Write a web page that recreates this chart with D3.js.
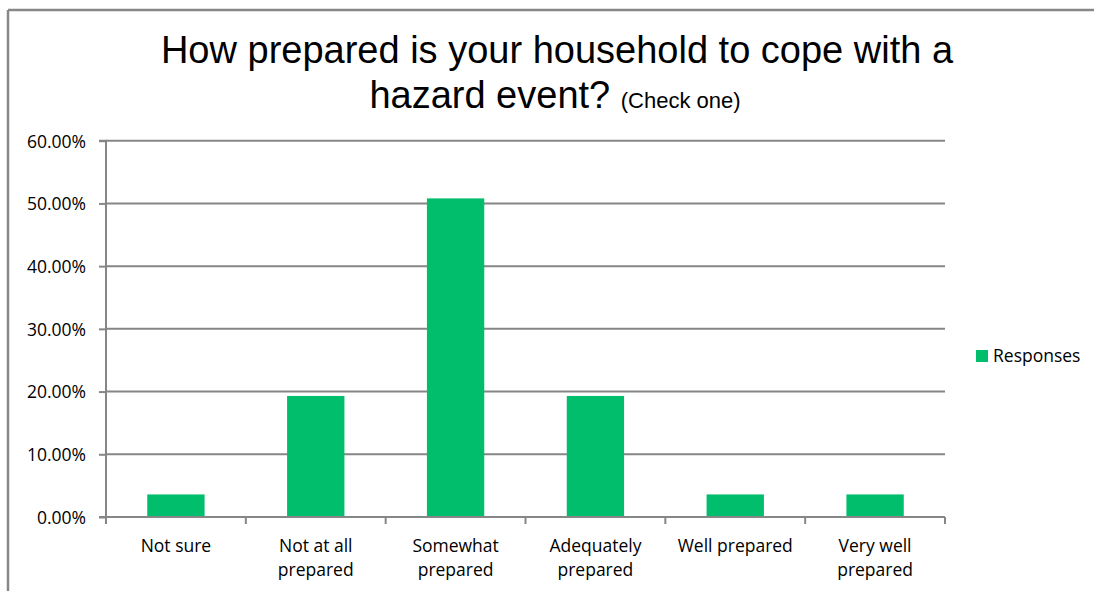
<!DOCTYPE html>
<html><head><meta charset="utf-8">
<script src="https://cdn.jsdelivr.net/npm/d3@7"></script>
<style>body{margin:0;background:#fff}svg{display:block}</style>
</head><body>
<svg id="c" width="1094" height="591"></svg>
<script>
const categories = [["Not sure"],["Not at all","prepared"],["Somewhat","prepared"],["Adequately","prepared"],["Well prepared"],["Very well","prepared"]];
const values = [0.036, 0.193, 0.508, 0.193, 0.036, 0.036];
const yTicks = [0, 0.1, 0.2, 0.3, 0.4, 0.5, 0.6];
const seriesName = "Responses";

const svg = d3.select("#c");
const W = 1094, H = 591;
const pLeft = 106, pRight = 945, pTop = 140.7, pBottom = 517;
const lblFont = "'Open Sans', Lato, sans-serif";
const lblSize = 17.5;

// frame
svg.append("line").attr("x1",8).attr("x2",W).attr("y1",10).attr("y2",10).attr("stroke","#878787").attr("stroke-width",2.5);
svg.append("line").attr("x1",8).attr("x2",8).attr("y1",10).attr("y2",H).attr("stroke","#878787").attr("stroke-width",2.5);

const x = d3.scaleBand().domain(d3.range(categories.length)).range([pLeft,pRight]).paddingInner(0.59).paddingOuter(0.295);
const xb = d3.scaleBand().domain(d3.range(categories.length)).range([pLeft,pRight]);
const y = d3.scaleLinear().domain([0,0.6]).range([pBottom,pTop]);

// gridlines
svg.append("g").selectAll("line").data(yTicks.slice(1)).join("line")
  .attr("x1",pLeft).attr("x2",pRight).attr("y1",d=>y(d)).attr("y2",d=>y(d))
  .attr("stroke","#868686").attr("stroke-width",2);

// y axis
const ya = svg.append("g").attr("transform",`translate(${pLeft},0)`)
  .call(d3.axisLeft(y).tickValues(yTicks).tickSize(7).tickPadding(13).tickFormat(d=>(d*100).toFixed(2)+"%"));
ya.select(".domain").attr("stroke","#868686").attr("stroke-width",2).attr("d",`M-7,${pTop}H0V${pBottom}H-7`);
ya.selectAll(".tick line").attr("stroke","#868686").attr("stroke-width",2);
ya.selectAll(".tick text").attr("font-family",lblFont).attr("font-size",lblSize).attr("fill","#000").attr("dy","0.36em");

// bars
svg.append("g").selectAll("rect").data(values).join("rect")
  .attr("x",(d,i)=>x(i)).attr("width",x.bandwidth())
  .attr("y",d=>y(d)).attr("height",d=>pBottom-y(d)).attr("fill","#00BE6B");

// x axis
const xg = svg.append("g");
xg.append("line").attr("x1",pLeft).attr("x2",pRight).attr("y1",pBottom).attr("y2",pBottom).attr("stroke","#868686").attr("stroke-width",2);
xg.selectAll("line.t").data(d3.range(categories.length+1)).join("line").attr("class","t")
  .attr("x1",i=>pLeft+i*xb.bandwidth()).attr("x2",i=>pLeft+i*xb.bandwidth())
  .attr("y1",pBottom).attr("y2",pBottom+7).attr("stroke","#868686").attr("stroke-width",2);
xg.selectAll("text").data(categories).join("text")
  .attr("x",(d,i)=>xb(i)+xb.bandwidth()/2).attr("y",552)
  .attr("text-anchor","middle").attr("font-family",lblFont).attr("font-size",lblSize).attr("fill","#000")
  .each(function(d){
    const t=d3.select(this);
    d.forEach((s,k)=>t.append("tspan").attr("x",t.attr("x")).attr("dy",k?24:0).text(s));
  });

// title
const tf = "'Liberation Sans', Arial, sans-serif";
svg.append("text").attr("x",557).attr("y",63).attr("text-anchor","middle").attr("font-family",tf).attr("font-size",38).attr("fill","#000")
  .text("How prepared is your household to cope with a");
const t2 = svg.append("text").attr("x",555).attr("y",108).attr("text-anchor","middle").attr("font-family",tf).attr("font-size",38).attr("fill","#000");
t2.append("tspan").text("hazard event? ");
t2.append("tspan").attr("font-size",22).text("(Check one)");

// legend
svg.append("rect").attr("x",976).attr("y",350).attr("width",12).attr("height",12).attr("fill","#00BE6B");
svg.append("text").attr("x",993).attr("y",362).attr("font-family",lblFont).attr("font-size",lblSize).attr("fill","#000").text(seriesName);
</script>
</body></html>
